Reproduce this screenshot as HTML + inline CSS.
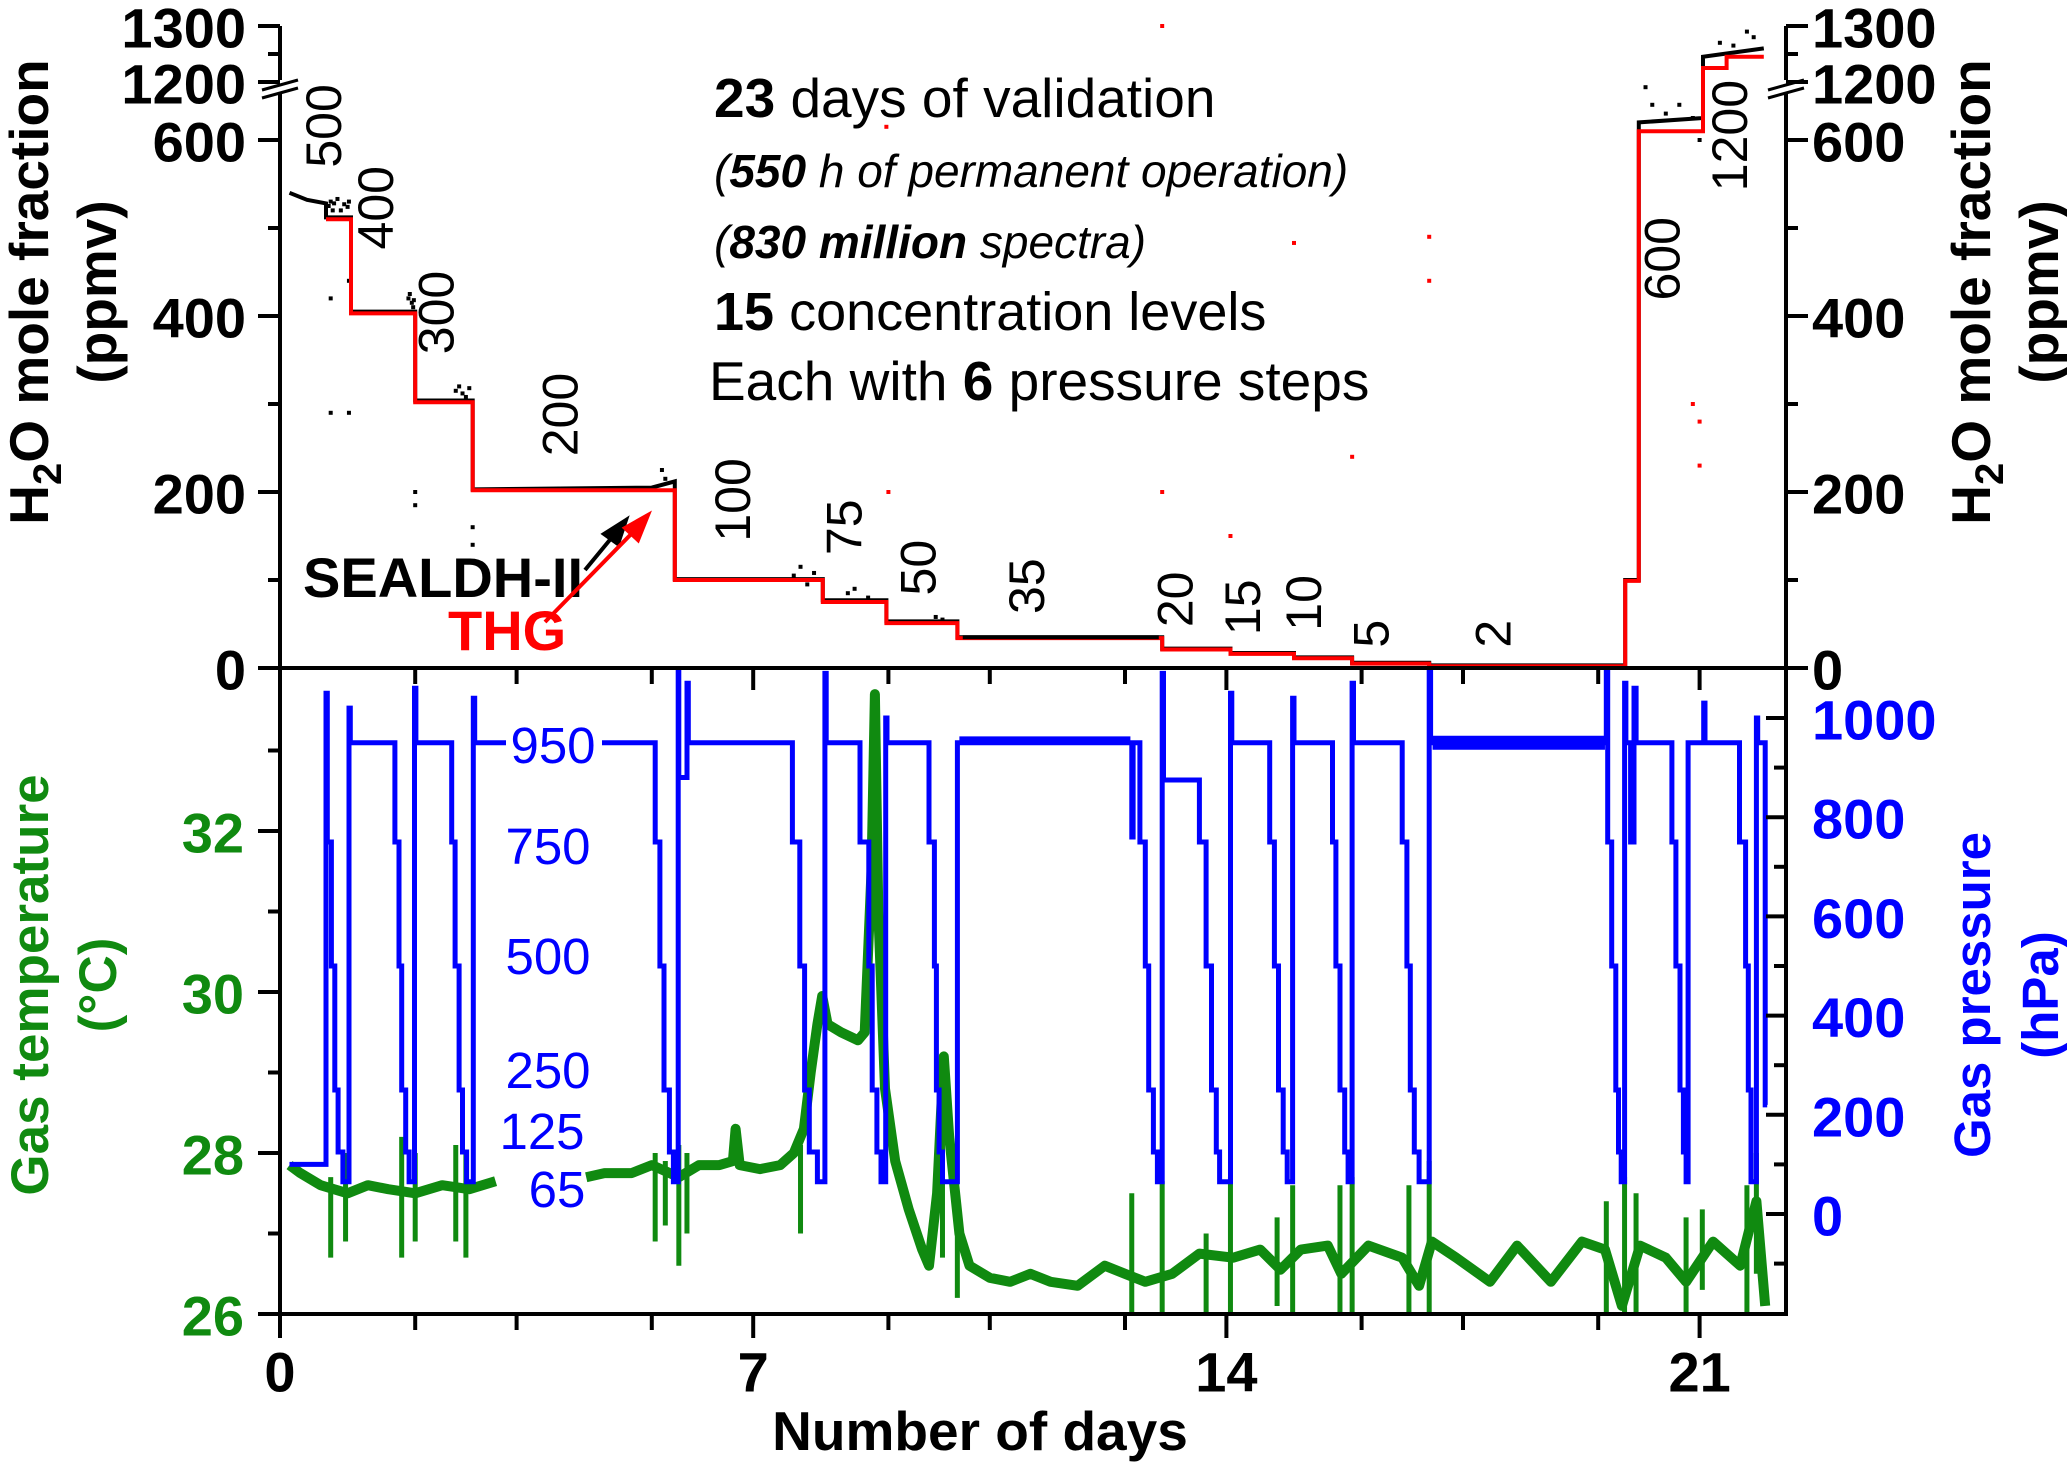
<!DOCTYPE html>
<html><head><meta charset="utf-8"><style>
html,body{margin:0;padding:0;background:#fff}
svg{display:block;font-family:"Liberation Sans",Arial,sans-serif}
</style></head><body>
<svg id="c" width="2067" height="1466" viewBox="0 0 2067 1466" xmlns="http://www.w3.org/2000/svg">
<defs><clipPath id="bclip"><rect x="280" y="668" width="1506" height="646"/></clipPath></defs>
<g id="grid"></g>
<g id="bottom" clip-path="url(#bclip)"></g>
<g id="top"></g>
<g id="axes"></g>
<g id="labels">
<text x="714" y="117" font-size="55"><tspan font-weight="bold">23</tspan> days of validation</text>
<text x="714" y="187" font-size="46" font-style="italic">(<tspan font-weight="bold">550</tspan> h of permanent operation)</text>
<text x="714" y="258" font-size="46" font-style="italic">(<tspan font-weight="bold">830 million</tspan> spectra)</text>
<text x="714" y="330" font-size="54"><tspan font-weight="bold">15</tspan> concentration levels</text>
<text x="709" y="400" font-size="55">Each with <tspan font-weight="bold">6</tspan> pressure steps</text>
<text x="303" y="597" font-size="56" font-weight="bold">SEALDH-II</text>
<text x="448" y="650" font-size="56" font-weight="bold" fill="#f00">THG</text>
<g stroke="#000" stroke-width="4"><line x1="585" y1="570" x2="618" y2="530"/><polygon points="626,520 604,534 618,544" fill="#000"/></g>
<g stroke="#f00" stroke-width="4"><line x1="545" y1="622" x2="640" y2="525"/><polygon points="648,515 625,528 638,540" fill="#f00"/></g>
<rect x="506" y="725" width="96" height="40" fill="#fff"/>
<g font-size="51" fill="#0000ff" text-anchor="middle">
<text x="553" y="763">950</text>
<text x="548" y="864">750</text>
<text x="548" y="974">500</text>
<text x="548" y="1088">250</text>
<text x="542" y="1149">125</text>
<text x="557" y="1207">65</text>
</g>
<text x="980" y="1450" font-size="55" font-weight="bold" text-anchor="middle">Number of days</text>
<g transform="translate(48,292) rotate(-90)"><text font-size="55" font-weight="bold" text-anchor="middle">H<tspan font-size="40" dy="13">2</tspan><tspan dy="-13">O mole fraction</tspan></text><text y="68" font-size="55" font-weight="bold" text-anchor="middle">(ppmv)</text></g>
<g transform="translate(48,985) rotate(-90)" fill="#108a10"><text font-size="53" font-weight="bold" text-anchor="middle">Gas temperature</text><text y="68" font-size="53" font-weight="bold" text-anchor="middle">(°C)</text></g>
<g transform="translate(1990,292) rotate(-90)"><text font-size="55" font-weight="bold" text-anchor="middle">H<tspan font-size="40" dy="13">2</tspan><tspan dy="-13">O mole fraction</tspan></text><text y="68" font-size="55" font-weight="bold" text-anchor="middle">(ppmv)</text></g>
<g transform="translate(1990,995) rotate(-90)" fill="#0000ff"><text font-size="51" font-weight="bold" text-anchor="middle">Gas pressure</text><text y="68" font-size="51" font-weight="bold" text-anchor="middle">(hPa)</text></g>
</g>
</svg>
<script>
// ---------- data ----------
const xTickMajor = [0, 7, 14, 21];
const xTickMinor = [2, 3.5, 5.5, 9, 10.5, 12.5, 16, 17.5, 19.5];
const h2oTicksLow = [0, 200, 400, 600];
const h2oTicksHigh = [1200, 1300];
const h2oMinor = [100, 300, 500, 1250];
const tempTicks = [26, 28, 30, 32];
const tempMinor = [27, 29, 31, 33];
const presTicks = [0, 200, 400, 600, 800, 1000];
const presMinor = [-100, 100, 300, 500, 700, 900];

const thgDays = [0.68, 1.05, 2.0, 2.85, 5.84, 8.03, 8.97, 10.02, 13.05, 14.06, 15.0, 15.86, 17.0, 19.9, 20.1, 21.05, 21.4, 21.95];
const thgVals = [510, 403, 302, 202, 100, 75, 51, 34, 21, 16, 11, 5, 2, 99, 610, 1225, 1245];
const sealDays = [0.14, 0.4, 0.68, 0.68, 1.05, 1.05, 2.0, 2.0, 2.85, 2.85, 5.5, 5.84, 5.84, 8.03, 8.03, 8.97, 8.97, 10.02, 10.02, 13.05, 13.05, 14.06, 14.06, 15.0, 15.0, 15.86, 15.86, 17.0, 17.0, 19.9, 19.9, 20.1, 20.1, 21.05, 21.05, 21.95];
const sealVals = [540, 532, 528, 512, 512, 405, 405, 304, 304, 203, 205, 212, 101, 101, 77, 77, 53, 53, 35, 35, 22, 22, 17, 17, 12, 12, 6, 6, 3, 3, 100, 100, 620, 625, 1245, 1260];
const sealDotDays = [0.72, 0.75, 0.78, 0.8, 0.85, 0.9, 0.95, 1.0, 1.02, 0.75, 0.75, 1.02, 1.02, 1.9, 1.92, 1.95, 1.97, 1.98, 2.0, 2.0, 2.6, 2.65, 2.7, 2.75, 2.8, 2.85, 2.85, 5.65, 5.7, 7.6, 7.7, 7.8, 7.9, 8.4, 8.5, 8.6, 8.7, 9.7, 9.8, 20.2, 20.3, 20.5, 20.7, 20.9, 21.0, 21.3, 21.5, 21.7, 21.8];
const sealDotVals = [525, 530, 520, 528, 533, 520, 527, 524, 530, 420, 290, 440, 290, 420, 425, 415, 410, 418, 200, 185, 315, 320, 312, 308, 318, 160, 140, 225, 215, 105, 115, 95, 108, 85, 90, 75, 80, 58, 55, 660, 640, 630, 640, 625, 600, 1270, 1265, 1290, 1280];
const thgDotDays = [8.97, 9.0, 13.05, 13.05, 14.06, 15.0, 15.86, 17.0, 17.0, 20.9, 21.0, 21.0];
const thgDotVals = [615, 200, 1300, 200, 150, 483, 240, 490, 440, 300, 230, 280];

const presDays = [0.14,0.68,0.70,0.76,0.81,0.86,0.93,1.02,1.04,1.70,1.76,1.80,1.86,1.91,1.99,2.01,2.54,2.59,2.65,2.70,2.76,2.86,2.88,5.55,5.62,5.68,5.76,5.82,5.89,5.90,6.02,6.04,7.58,7.69,7.76,7.83,7.95,8.06,8.08,8.58,8.71,8.76,8.83,8.89,8.96,8.98,9.60,9.68,9.71,9.75,9.80,10.02,12.60,12.62,12.72,12.80,12.85,12.92,12.98,13.05,13.07,13.60,13.70,13.78,13.85,13.90,14.06,14.08,14.64,14.71,14.77,14.84,14.90,14.98,15.00,15.57,15.62,15.68,15.75,15.80,15.86,15.88,16.60,16.67,16.72,16.78,16.85,17.00,17.02,19.62,19.64,19.70,19.76,19.80,19.84,19.89,19.91,19.98,20.03,20.06,20.59,20.65,20.71,20.76,20.80,20.83,21.06,21.08,21.59,21.68,21.72,21.76,21.84,21.86,21.97,22.0];
const presVals = [100,1050,750,500,250,125,65,1020,950,750,500,250,125,65,1060,950,750,500,250,125,65,1040,950,750,500,250,125,65,1100,880,1070,950,750,500,250,125,65,1090,950,750,500,250,125,65,1000,950,750,500,250,125,65,950,760,950,750,500,250,125,65,1090,875,750,500,250,125,65,1050,950,750,500,250,125,65,1040,950,750,500,250,125,65,1070,950,750,500,250,125,65,1100,950,1100,750,500,250,125,65,1070,950,750,1060,950,750,500,250,125,65,950,1030,950,750,500,250,65,1000,950,220,220];
const noiseStart = [10.05, 17.05];
const noiseEnd = [12.58, 19.6];
const noiseLevel = [955, 950];

const tempDays = [0.14,0.3,0.6,1.0,1.3,1.6,2.0,2.4,2.8,3.19,null,4.53,4.8,5.2,5.5,5.9,6.2,6.5,6.7,6.74,6.8,7.1,7.4,7.6,7.75,7.85,7.95,8.02,8.1,8.3,8.55,8.65,8.75,8.8,8.85,8.95,9.1,9.3,9.5,9.6,9.72,9.82,9.9,10.05,10.2,10.5,10.8,11.1,11.4,11.8,12.2,12.5,12.8,13.2,13.6,14.1,14.5,14.8,15.1,15.5,15.7,16.1,16.6,16.85,17.04,17.4,17.9,18.3,18.8,19.26,19.6,19.85,20.12,20.5,20.8,21.2,21.6,21.84,21.97];
const tempVals = [27.85,27.75,27.6,27.5,27.6,27.55,27.5,27.6,27.55,27.65,null,27.7,27.75,27.75,27.85,27.7,27.85,27.85,27.9,28.3,27.85,27.8,27.85,28.0,28.3,29.0,29.6,29.95,29.6,29.5,29.4,29.5,31.5,33.7,31.0,28.8,27.9,27.3,26.8,26.6,27.5,29.2,28.2,27.0,26.6,26.45,26.4,26.5,26.4,26.35,26.6,26.5,26.4,26.5,26.75,26.7,26.8,26.55,26.8,26.85,26.5,26.85,26.7,26.35,26.9,26.7,26.4,26.85,26.4,26.9,26.8,26.1,26.85,26.7,26.4,26.9,26.6,27.4,26.1];
const spikeDays = [0.75,0.97,1.8,2.0,2.6,2.75,5.55,5.7,5.9,6.02,7.7,9.8,10.02,12.6,13.05,13.7,14.06,14.75,14.98,15.68,15.86,16.7,17.0,19.62,19.89,20.06,20.8,21.04,21.7,21.84];
const spikeHi = [27.7,28.0,28.2,28.0,28.1,28.0,28.0,27.9,28.1,28.0,28.1,28.5,27.0,27.5,27.65,27.0,27.7,27.2,27.6,27.6,27.7,27.6,27.9,27.4,27.7,27.5,27.2,27.3,27.6,28.0];
const spikeLo = [26.7,26.9,26.7,26.9,26.9,26.7,26.9,27.1,26.6,27.0,27.0,26.7,26.2,26.0,26.0,26.0,26.0,26.1,26.0,26.0,26.0,26.0,26.0,26.0,26.0,26.0,26.0,26.3,26.0,26.5];

const topLevelLabels = ['500','400','300','200','100','75','50','35','20','15','10','5','2','600','1200'];
const topLevelDays = [0.9, 1.67, 2.57, 4.4, 6.95, 8.6, 9.7, 11.3, 13.5, 14.5, 15.4, 16.4, 18.2, 20.7, 21.7];
const topLevelVals = [616, 523, 404, 288, 191, 160, 114, 93, 78, 69, 74, 39, 39, 465, 605];

// ---------- scales ----------
const X0 = 280, X1 = 1786;
function xs(d){ return X0 + d*67.6; }
function yh(v){ return v >= 1200 ? 82 - (v-1200)*0.56 : 668 - v*0.88; }
function yt(t){ return 1314 - (t-26)*80.5; }
function yp(p){ return 1214 - p*0.496; }

const NS = 'http://www.w3.org/2000/svg';
function mk(tag, attrs, parent){ const e = document.createElementNS(NS, tag); for (const k in attrs) e.setAttribute(k, attrs[k]); parent.appendChild(e); return e; }
const gAxes = document.getElementById('axes'), gTop = document.getElementById('top'), gBot = document.getElementById('bottom');
const GREEN = '#108a10', BLUE = '#0000ff', RED = '#ff0000';

// ---------- bottom panel ----------
let d = '', started = false;
for (let i = 0; i < tempDays.length; i++) {
  if (tempDays[i] === null) { started = false; continue; }
  d += (started ? 'L' : 'M') + xs(tempDays[i]).toFixed(1) + ',' + yt(tempVals[i]).toFixed(1);
  started = true;
}
const tLine = mk('path', {d: d, fill: 'none', stroke: GREEN, 'stroke-width': 10, 'stroke-linejoin': 'round'}, gBot);


for (let i = 0; i < spikeDays.length; i++) {
  const s = mk('line', {x1: xs(spikeDays[i]), x2: xs(spikeDays[i]), y1: yt(spikeHi[i]), y2: yt(spikeLo[i]), stroke: GREEN, 'stroke-width': 5}, gBot);
  
  
}
let pd = 'M' + xs(presDays[0]) + ',' + yp(presVals[0]);
for (let i = 1; i < presDays.length; i++) {
  pd += 'H' + xs(presDays[i]).toFixed(1) + 'V' + yp(presVals[i]).toFixed(1);
}
const pLine = mk('path', {d: pd, fill: 'none', stroke: BLUE, 'stroke-width': 5}, gBot);


for (let i = 0; i < noiseStart.length; i++) {
  const n = mk('line', {x1: xs(noiseStart[i]), x2: xs(noiseEnd[i]), y1: yp(noiseLevel[i]), y2: yp(noiseLevel[i]), stroke: BLUE, 'stroke-width': i ? 14 : 8}, gBot);
  
  
}

// ---------- top panel ----------
let sd = '';
for (let i = 0; i < sealDays.length; i++) sd += (i ? 'L' : 'M') + xs(sealDays[i]).toFixed(1) + ',' + yh(sealVals[i]).toFixed(1);
const sLine = mk('path', {d: sd, fill: 'none', stroke: '#000', 'stroke-width': 4}, gTop);


for (let i = 0; i < sealDotDays.length; i++) {
  const c = mk('rect', {x: xs(sealDotDays[i]) - 2, y: yh(sealDotVals[i]) - 2, width: 4, height: 4, fill: '#000'}, gTop);
  
  
}
let rd = '';
for (let i = 0; i < thgVals.length; i++) {
  rd += (i ? 'V' : 'M' + xs(thgDays[0]).toFixed(1) + ',') + yh(thgVals[i]).toFixed(1) + 'H' + xs(thgDays[i+1]).toFixed(1);
}
const rLine = mk('path', {d: rd, fill: 'none', stroke: RED, 'stroke-width': 4}, gTop);


const s35 = mk('line', {x1: xs(10.1), x2: xs(13.0), y1: yh(35), y2: yh(35), stroke: '#000', 'stroke-width': 4}, gTop);


for (let i = 0; i < thgDotDays.length; i++) {
  const c = mk('rect', {x: xs(thgDotDays[i]) - 2, y: yh(thgDotVals[i]) - 2, width: 4, height: 4, fill: RED}, gTop);
  
  
}
for (let i = 0; i < topLevelLabels.length; i++) {
  const x = xs(topLevelDays[i]), y = yh(topLevelVals[i]);
  const t = mk('text', {x: 0, y: 0, transform: 'translate(' + x + ',' + y + ') rotate(-90)', 'font-size': 50, 'text-anchor': 'middle'}, gTop);
  t.textContent = topLevelLabels[i];
  
  
}

// ---------- axes ----------
const AX = {stroke: '#000', 'stroke-width': 4, fill: 'none'};
[['M280,26V80 M280,92V1314', 'left-axis-line'], ['M1786,26V80 M1786,92V1314', 'right-axis-line'],
 ['M278,668H1788', 'panel-divider'], ['M278,1314H1788', 'x-axis-line']].forEach(a => {
  const p = mk('path', Object.assign({d: a[0]}, AX), gAxes);
  
  
});
[280, 1786].forEach(x => {
  const b = mk('path', {d: 'M' + (x-18) + ',90L' + (x+18) + ',80M' + (x-18) + ',98L' + (x+18) + ',88', stroke: '#000', 'stroke-width': 3, fill: 'none'}, gAxes);
  
  
});
function tick(x1, y1, x2, y2){ const t = mk('line', {x1, y1, x2, y2, stroke: '#000', 'stroke-width': 4}, gAxes);   }
function label(x, y, s, anchor, color, name){ const t = mk('text', {x, y, 'font-size': 56, 'font-weight': 'bold', 'text-anchor': anchor, fill: color, 'dominant-baseline': 'central'}, gAxes); t.textContent = s;   }
h2oTicksLow.concat(h2oTicksHigh).forEach(v => {
  const y = yh(v);
  tick(258, y, 280, y); tick(1786, y, 1808, y);
  label(246, y + 2, String(v), 'end', '#000', 'h2o-tick-label-left');
  label(1812, y + 2, String(v), 'start', '#000', 'h2o-tick-label-right');
});
h2oMinor.forEach(v => { const y = yh(v); tick(268, y, 280, y); tick(1786, y, 1798, y); });
tempTicks.forEach(v => { const y = yt(v); tick(258, y, 280, y); label(244, y + 2, String(v), 'end', GREEN, 'temperature-tick-label'); });
tempMinor.forEach(v => { const y = yt(v); tick(268, y, 280, y); });
presTicks.forEach(v => { const y = yp(v); tick(1766, y, 1786, y); label(1812, y + 2, String(v), 'start', BLUE, 'pressure-tick-label'); });
presMinor.forEach(v => { const y = yp(v); tick(1774, y, 1786, y); });
xTickMajor.forEach(v => { const x = xs(v); tick(x, 1314, x, 1338); tick(x, 668, x, 690); label(x, 1372, String(v), 'middle', '#000', 'x-tick-label'); });
xTickMinor.forEach(v => { const x = xs(v); tick(x, 1314, x, 1330); tick(x, 668, x, 684); });
</script>
</body></html>
